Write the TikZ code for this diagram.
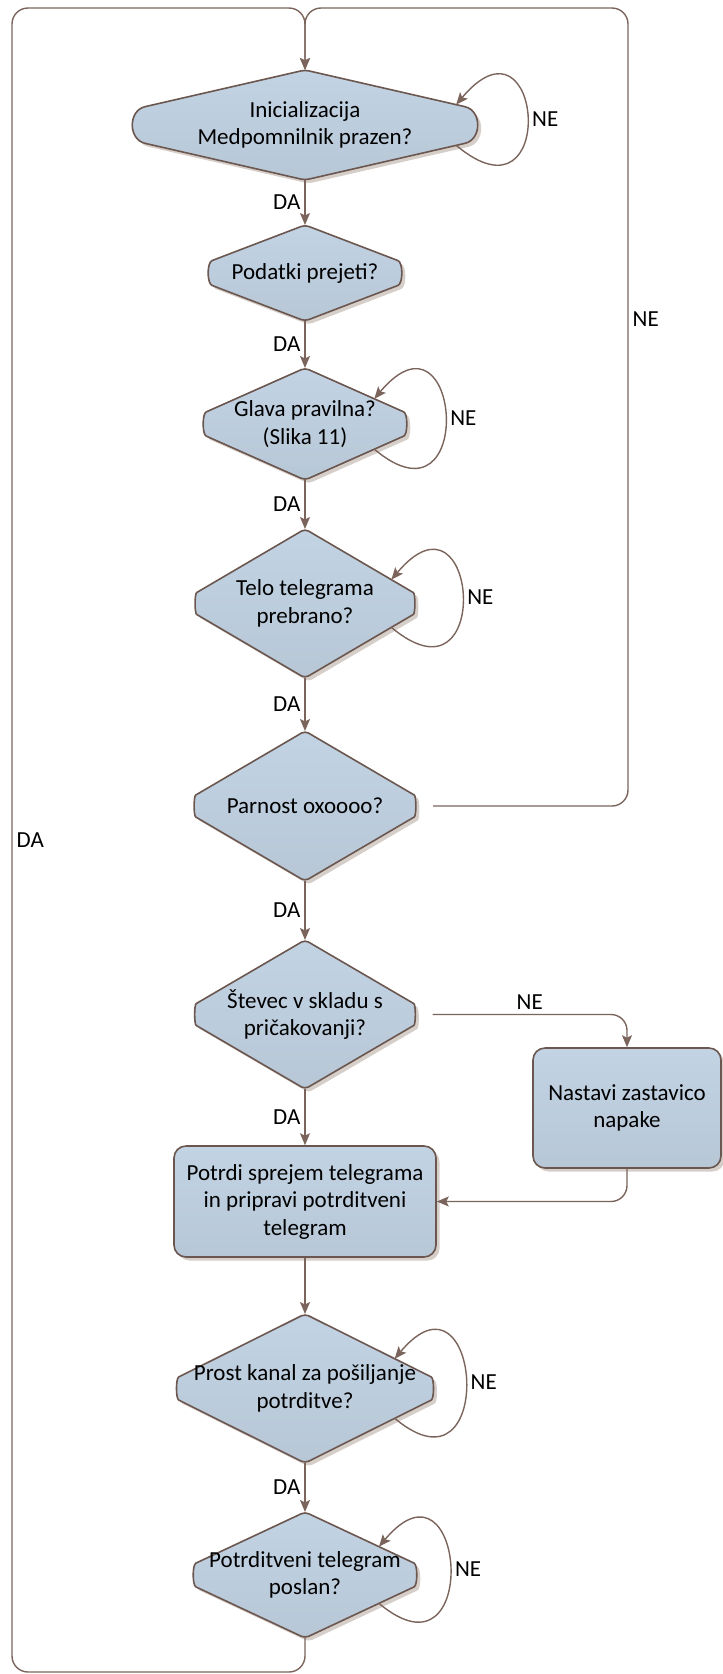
\documentclass[tikz,border=0pt]{standalone}
\usepackage{fontspec}
\setmainfont{Carlito}
\usetikzlibrary{calc,shapes.geometric,arrows.meta,shadows}

\definecolor{bordc}{HTML}{6B574F}
\definecolor{linec}{HTML}{7A645B}
\definecolor{fillc}{HTML}{B7C7D6}
\definecolor{fillt}{HTML}{C2D3E4}
\definecolor{shadc}{HTML}{D6CEC9}

\begin{document}
\begin{tikzpicture}[x=1pt, y=1pt,
	dec/.style={diamond, inner sep=0pt, outer sep=0pt},
	decline/.style={draw=bordc, line width=1.6pt, rounded corners=4pt, top color=fillt, bottom color=fillc,
		drop shadow={shadow xshift=3.5pt, shadow yshift=-3.5pt, fill=shadc, opacity=1}},
	act/.style={draw=bordc, line width=1.6pt, rounded corners=12pt, top color=fillt, bottom color=fillc,
		drop shadow={shadow xshift=3.5pt, shadow yshift=-3.5pt, fill=shadc, opacity=1},
		align=center, inner sep=0pt, font=\fontsize{23}{27.5}\selectfont},
	txt/.style={align=center, inner sep=0pt, font=\fontsize{23}{27.5}\selectfont},
	lab/.style={inner sep=4pt, font=\fontsize{23}{26}\selectfont},
	conn/.style={draw=linec, line width=1.4pt, ->},
	redge/.style={rounded corners=16pt},
	self/.style={out=-40, in=50, distance=135pt}]
	\tikzset{>={Stealth[length=12pt, width=10pt, inset=2.5pt]}}
	\useasboundingbox (0,0) rectangle (723,-1674);

	\node [dec, minimum width=480pt, minimum height=110pt] (d1) at (305,-125) {};
	\node [dec, minimum width=251pt, minimum height=96pt] (d2) at (305,-273) {};
	\node [dec, minimum width=252pt, minimum height=112pt] (d3) at (305,-424) {};
	\node [dec, minimum width=254pt, minimum height=149pt] (d4) at (305,-603.5) {};
	\node [dec, minimum width=256pt, minimum height=150pt] (d5) at (305,-806) {};
	\node [dec, minimum width=255pt, minimum height=149pt] (d6) at (305,-1014.5) {};
	\node [dec, minimum width=299pt, minimum height=149pt] (d7) at (305,-1388.5) {};
	\node [dec, minimum width=269pt, minimum height=126pt] (d8) at (305,-1575) {};

	% diamond outlines, tips rounded
	\foreach \n/\fr in {d1/0.35, d2/0.29, d3/0.245, d4/0.174, d5/0.173, d6/0.174, d7/0.18, d8/0.216} {
		\pgfmathsetmacro{\gc}{0.75*\fr}
		\draw [decline] (\n.north) -- ($(\n.east)!\fr!(\n.north)$)
			.. controls ($(\n.east)!\gc!(\n.north)$) and ($(\n.east)!\gc!(\n.south)$) .. ($(\n.east)!\fr!(\n.south)$)
			-- (\n.south) -- ($(\n.west)!\fr!(\n.south)$)
			.. controls ($(\n.west)!\gc!(\n.south)$) and ($(\n.west)!\gc!(\n.north)$) .. ($(\n.west)!\fr!(\n.north)$)
			-- cycle;
	}

	\node [txt] (d1t) at (d1) {Inicializacija\\Medpomnilnik prazen?};
	\node [txt] (d2t) at (d2) {Podatki prejeti?};
	\node [txt] (d3t) at (d3) {Glava pravilna?\\(Slika 11)};
	\node [txt] (d4t) at (d4) {Telo telegrama\\prebrano?};
	\node [txt] (d5t) at (d5) {Parnost oxoooo?};
	\node [txt] (d6t) at (d6) {Števec v skladu s\\pričakovanji?};
	\node [txt] (d7t) at (d7) {Prost kanal za pošiljanje\\potrditve?};
	\node [txt] (d8t) at (d8) {Potrditveni telegram\\poslan?};

	\node [act, minimum width=262pt, minimum height=111pt] (b1) at (305,-1201.5) {Potrdi sprejem telegrama\\in pripravi potrditveni\\telegram};
	\node [act, minimum width=188pt, minimum height=120pt] (b2) at (627,-1108) {Nastavi zastavico\\napake};

	\coordinate (jt) at (305,-8);
	\coordinate (lt) at (12,-8);
	\coordinate (lb) at (12,-1672);
	\coordinate (rt) at (628,-8);
	\coordinate (rr) at (628,-806);

	\draw [conn] (d1.south) -- (d2.north) node [lab, left, midway] {DA};
	\draw [conn] (d2.south) -- (d3.north) node [lab, left, midway] {DA};
	\draw [conn] (d3.south) -- (d4.north) node [lab, left, midway] {DA};
	\draw [conn] (d4.south) -- (d5.north) node [lab, left, midway] {DA};
	\draw [conn] (d5.south) -- (d6.north) node [lab, left, midway] {DA};
	\draw [conn] (d6.south) -- (b1.north) node [lab, left, midway] {DA};
	\draw [conn] (b1.south) -- (d7.north);
	\draw [conn] (d7.south) -- (d8.north) node [lab, left, midway] {DA};

	\draw [conn] ($(d1.east)!0.37!(d1.south)$) to [self] node [lab, right] {NE} ($(d1.east)!0.37!(d1.north)$);
	\draw [conn] ($(d3.east)!0.45!(d3.south)$) to [self] node [lab, right] {NE} ($(d3.east)!0.45!(d3.north)$);
	\draw [conn] ($(d4.east)!0.32!(d4.south)$) to [self] node [lab, right] {NE} ($(d4.east)!0.32!(d4.north)$);
	\draw [conn] ($(d7.east)!0.4!(d7.south)$) to [self] node [lab, right] {NE} ($(d7.east)!0.4!(d7.north)$);
	\draw [conn] ($(d8.east)!0.45!(d8.south)$) to [self] node [lab, right] {NE} ($(d8.east)!0.45!(d8.north)$);

	\draw [conn, redge] (d6.east) -| node [lab, above, pos=0.25] {NE} (b2.north);
	\draw [conn, redge] (b2.south) |- (b1.east);
	\draw [conn, redge] (d5.east) -- (rr) -- node [lab, right, pos=0.61] {NE} (rt) -- (jt) -- (d1.north);
	\draw [conn, redge] (d8.south) |- (lb) -- node [lab, right, midway] {DA} (lt) -- (jt) -- (d1.north);
\end{tikzpicture}
\end{document}
